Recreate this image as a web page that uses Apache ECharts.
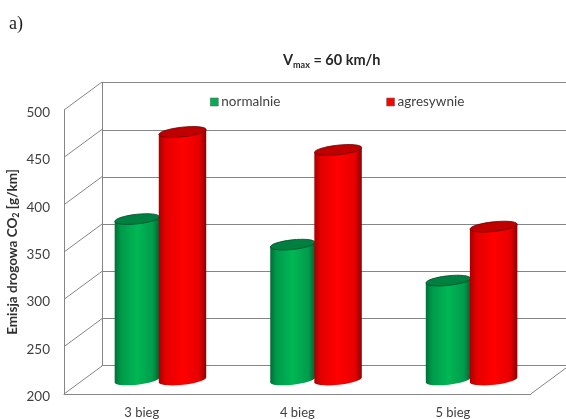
<!DOCTYPE html>
<html><head><meta charset="utf-8">
<style>html,body{margin:0;padding:0;background:#fff}#c{width:566px;height:419px}</style>
<script src="https://cdn.jsdelivr.net/npm/echarts@6/dist/echarts.min.js"></script>
</head><body><div id="c"></div>
<script>
const categories = ['3 bieg', '4 bieg', '5 bieg'];
const normalnie = [370, 343, 305];
const agresywnie = [462, 443, 362];
const yTicks = [200, 250, 300, 350, 400, 450, 500];

const chart = echarts.init(document.getElementById('c'));
const DX = 38, DY = -28;
const lineColor = '#858585', textColor = '#404040';
const font = 'Lato';

function grad(stops) {
  return new echarts.graphic.LinearGradient(0, 0, 1, 0,
    stops.map(s => ({offset: s[0], color: s[1]})));
}
const looks = {
  g: {body: [[0,'#006f38'],[0.14,'#009a4b'],[0.5,'#00b755'],[0.85,'#009c4c'],[1,'#006332']], top:'#008040', edge:'#00502a'},
  r: {body: [[0,'#a80000'],[0.14,'#e40000'],[0.5,'#ff0000'],[0.85,'#e80000'],[1,'#8c0000']], top:'#c00000', edge:'#6e0000'}
};
function cylinder(look, offsetShare, widthShare) {
  return function (params, api) {
    const band = api.size([1, 0])[0];
    const top = api.coord([api.value(0), api.value(1)]);
    const base = api.coord([api.value(0), 200]);
    const cx = top[0] + band * offsetShare;
    const rx = band * widthShare / 2, ry = 4.8, rot = 0.108;
    const t = rx * Math.sin(rot);
    const fill = grad(look.body);
    return {type: 'group', children: [
      {type:'ellipse', x:cx, y:base[1], rotation:rot, shape:{cx:0,cy:0,rx:rx,ry:ry}, style:{fill:fill}},
      {type:'polygon', shape:{points:[[cx-rx,top[1]+t],[cx+rx,top[1]-t],[cx+rx,base[1]-t],[cx-rx,base[1]+t]]}, style:{fill:fill}},
      {type:'ellipse', x:cx, y:top[1], rotation:rot, shape:{cx:0,cy:0,rx:rx,ry:ry}, style:{fill:look.top, stroke:look.edge, lineWidth:0.8}}
    ]};
  };
}
function wallLines(params, api) {
  const y = api.coord([0, api.value(0)])[1];
  const cs = params.coordSys;
  const mk = x => ({type:'line', shape:{x1:x,y1:y,x2:x+DX,y2:y+DY}, style:{stroke:lineColor,lineWidth:1}});
  const kids = [mk(cs.x)];
  if (api.value(0) === yTicks[0]) kids.push(mk(cs.x + cs.width));
  return {type:'group', children:kids};
}

chart.setOption({
  animation: false,
  backgroundColor: '#fff',
  title: [
    {text:'{a|V}{b|max}{a| = 60 km/h}', left:278, top:45, textStyle:{rich:{
      a:{fontFamily:font,fontWeight:'bold',fontSize:14.5,color:'#262626',lineHeight:20},
      b:{fontFamily:font,fontWeight:'bold',fontSize:9,color:'#262626',lineHeight:20,verticalAlign:'bottom',padding:[5,0,0,0]}
    }}},
    {text:'a)', left:4, top:10, textStyle:{fontFamily:'Liberation Serif',fontWeight:'normal',fontSize:18,color:'#1a1a1a'}}
  ],
  legend: {
    left:205, top:90, icon:'rect', itemWidth:8, itemHeight:8, itemGap:106,
    data:['normalnie','agresywnie'],
    textStyle:{fontFamily:font,fontSize:13.5,color:textColor,padding:[0,0,0,-2]},
    itemStyle:{borderColor:'#6a6a6a',borderWidth:0.6}
  },
  grid: [
    {left:64, top:110, width:466.7, height:284, outerBoundsMode:'none'},
    {left:102, top:82.7, right:0, height:282.8, outerBoundsMode:'none'},
    {left:82, top:96, width:466.7, height:284, outerBoundsMode:'none'}
  ],
  xAxis: [
    {gridIndex:0, type:'category', data:categories, axisTick:{show:false},
     axisLine:{lineStyle:{color:lineColor,width:1}},
     axisLabel:{fontFamily:font,fontSize:13,color:textColor,margin:12}},
    {gridIndex:1, type:'category', data:categories, axisTick:{show:false}, axisLabel:{show:false},
     axisLine:{lineStyle:{color:lineColor,width:1}}},
    {gridIndex:2, type:'category', data:categories, show:false}
  ],
  yAxis: [
    {gridIndex:0, type:'value', min:200, max:500, interval:50,
     name:'{a|Emisja drogowa CO}{b|2}{a| [g/km]}', nameLocation:'middle', nameGap:43, nameRotate:90, nameMoveOverlap:false,
     nameTextStyle:{rich:{
       a:{fontFamily:font,fontWeight:'bold',fontSize:13.5,color:'#303030',lineHeight:16},
       b:{fontFamily:font,fontWeight:'bold',fontSize:9,color:'#303030',lineHeight:16,verticalAlign:'bottom'}
     }},
     axisLine:{show:true,lineStyle:{color:lineColor,width:1}}, axisTick:{show:false}, splitLine:{show:false},
     axisLabel:{fontFamily:font,fontSize:13.5,color:textColor,margin:14,verticalAlign:'top',lineHeight:5}},
    {gridIndex:1, type:'value', min:200, max:500, interval:50,
     axisLine:{show:true,lineStyle:{color:lineColor,width:1}}, axisTick:{show:false}, axisLabel:{show:false},
     splitLine:{show:true,lineStyle:{color:lineColor,width:1}}},
    {gridIndex:2, type:'value', min:200, max:500, interval:50, show:false, splitLine:{show:false}}
  ],
  series: [
    {name:'wall', type:'custom', xAxisIndex:0, yAxisIndex:0, silent:true,
     data:yTicks.map(v=>[v]), encode:{y:0}, renderItem:wallLines, z:1},
    {name:'normalnie', type:'custom', xAxisIndex:2, yAxisIndex:2, silent:true, z:3,
     itemStyle:{color:'#00b050'}, encode:{x:0,y:1},
     data:normalnie.map((v,i)=>[i,v]), renderItem:cylinder(looks.g,-0.146,0.288)},
    {name:'agresywnie', type:'custom', xAxisIndex:2, yAxisIndex:2, silent:true, z:4,
     itemStyle:{color:'#ff0000'}, encode:{x:0,y:1},
     data:agresywnie.map((v,i)=>[i,v]), renderItem:cylinder(looks.r,0.146,0.305)}
  ]
});
</script></body></html>
